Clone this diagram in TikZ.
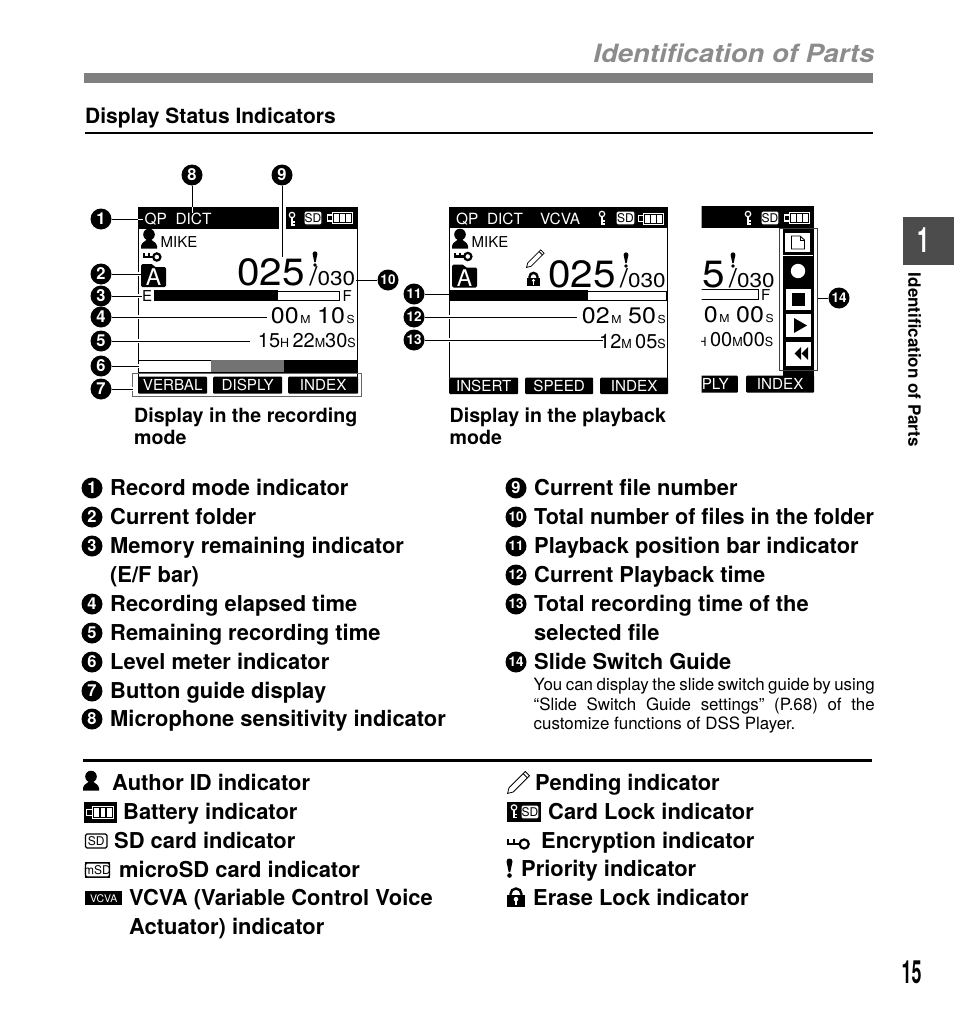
\documentclass[tikz,border=0pt]{standalone}
\usepackage{fontspec}
\setmainfont{TeX Gyre Heros}
\usetikzlibrary{positioning, calc}

\newcommand{\fsz}[1]{\fontsize{#1}{#1}\selectfont}

% --- MACROS FOR THE SMALL ICONS ---
\newcommand{\authoricon}[1]{
  \begin{scope}[shift={(#1)}]
    \fill[black] (0,-4.5) circle (5.8);
    \fill[black] (-8,9.5) -- (-8,7) .. controls (-7.5,3) and (-3,2.5) .. (-2,0) -- (2,0) .. controls (3,2.5) and (7.5,3) .. (8,7) -- (8,9.5) -- cycle;
  \end{scope}
}
\newcommand{\cryptkey}[2]{
  \begin{scope}[shift={(#1)}, scale=#2]
    \draw[black, line width=2.2] (-1,0) -- (10,0);
    \draw[black, line width=2.2] (0,1) -- (0,-3.8);
    \draw[black, line width=2.2] (5,1) -- (5,-3.8);
    \draw[black, line width=2.2] (13.5,0) circle (3.8);
  \end{scope}
}
\newcommand{\foldericon}[1]{
  \begin{scope}[shift={(#1)}]
    \fill[black, rounded corners=1.5] (0,23) -- (0,0) -- (12,0) -- (13,3) -- (25,3) -- (25,23) -- cycle;
    \node[white, font=\fsz{23}, inner sep=0pt] (#1A) at (12.5,13.5) {A};
  \end{scope}
}
\newcommand{\prioicon}[2]{
  \begin{scope}[shift={(#1)}, scale=#2]
    \fill[black] (-3,-6.5) .. controls (-3,-10.5) and (3,-10.5) .. (3,-6.5) -- (0.8,4) -- (-0.8,4) -- cycle;
    \fill[black] (0,7.5) circle (2.3);
  \end{scope}
}
\newcommand{\penicon}[2]{
  \begin{scope}[shift={(#1)}, scale=#2, rotate=45]
    \draw[black, line width=0.8] (-14,0) -- (-9,-3) -- (14,-3) -- (14,3) -- (-9,3) -- cycle;
    \draw[black, line width=0.8] (11,-3) -- (11,3);
  \end{scope}
}
\newcommand{\lockicon}[2]{
  \begin{scope}[shift={(#1)}, scale=#2]
    \draw[black, line width=2.4] (-5.5,0) -- (-5.5,-3) arc (180:360:5.5) -- (5.5,0);
    \fill[black] (-9,-2) rectangle (9,10);
    \fill[white] (0,2.2) circle (2.3);
    \fill[white] (-1.2,3) rectangle (1.2,8);
  \end{scope}
}
\newcommand{\whitekey}[1]{
  \begin{scope}[shift={(#1)}]
    \draw[white, line width=1.2] (0,-4) circle (2.7);
    \draw[white, line width=1.2] (0,-1.3) -- (0,6) -- (2.5,6);
    \draw[white, line width=1.2] (0,3) -- (2.5,3);
  \end{scope}
}
\newcommand{\sdicon}[3]{
  \begin{scope}[shift={(#1)}]
    \draw[fill=white, draw=black, line width=1.3, rounded corners=1.5] (0,0) rectangle (#3,14);
    \node[black, font=\fsz{12}, inner sep=0pt] (#1S) at (#3/2,7.2) {#2};
  \end{scope}
}
\newcommand{\batteryicon}[2]{
  \begin{scope}[shift={(#1)}, scale=#2]
    \fill[black] (-2,-4) rectangle (31,16.5);
    \fill[white] (0,2.5) rectangle (6,10);
    \fill[black] (1.4,3.9) rectangle (6,8.6);
    \fill[white] (6,0) rectangle (28,13);
    \fill[black] (7.2,1.2) rectangle (26.8,11.8);
    \fill[white] (8.4,2.4) rectangle (13.3,10.6);
    \fill[white] (14.5,2.4) rectangle (19.4,10.6);
    \fill[white] (20.6,2.4) rectangle (25.5,10.6);
  \end{scope}
}
\newcommand{\bigunit}[1]{{\fsz{11}#1}}
\newcommand{\midunit}[1]{{\fsz{12.5}#1}}
\newcommand{\bigslash}{\smash{\fsz{26}/}}

\begin{document}
\begin{tikzpicture}[x=1pt, y=-1pt]
  % --- STYLE DEFINITIONS ---
  \tikzstyle{numdot}=[circle, fill=black, text=white, minimum size=21pt, inner sep=0pt, font=\fsz{16.5}\bfseries]
  \tikzstyle{numtwo}=[numdot, font=\fsz{13.5}\bfseries]
  \tikzstyle{leader}=[black, line width=0.9, preaction={draw=white, line width=3.5}]
  \tikzstyle{listtext}=[anchor=base west, inner sep=0pt, font=\fsz{21.9}\bfseries]
  \tikzstyle{caption}=[anchor=base west, inner sep=0pt, font=\fsz{19.6}\bfseries]
  \tikzstyle{softkey}=[fill=black, text=white, rounded corners=1pt, inner sep=0pt, font=\fsz{15.2}]
  \tikzstyle{screenrow}=[anchor=base east, inner sep=0pt, xscale=1.11, font=\fsz{22.5}]
  \tikzstyle{screenrowb}=[anchor=base east, inner sep=0pt, font=\fsz{20}]
  \tikzstyle{bigcount}=[anchor=base west, inner sep=0pt, xscale=1.065, font=\fsz{38}]
  \tikzstyle{totalcount}=[anchor=base east, inner sep=0pt, xscale=1.13, font=\fsz{20}]
  \tikzstyle{smalllabel}=[anchor=base west, inner sep=0pt, font=\fsz{15}]
  \tikzstyle{guidecell}=[fill=white, draw=black, line width=1.2]

  \useasboundingbox (0,0) rectangle (954,1022);

  % =================================================================
  % PAGE HEADER
  % =================================================================
  \node[anchor=base east, inner sep=0pt, text=black!45, xscale=1.09, font=\fsz{25.2}\bfseries\itshape] (title) at (874.5,63) {Identification of Parts};
  \fill[black!50] (84,73) rectangle (873,83);
  \node[anchor=base west, inner sep=0pt, font=\fsz{21}\bfseries] (section) at (85,124) {Display Status Indicators};
  \draw[black, line width=1.6] (85,133) -- (873,133);

  % =================================================================
  % SCREEN 1: RECORDING MODE
  % =================================================================
  \fill[black] (138,207) rectangle (279,229);
  \fill[black] (286,207) rectangle (358,229);
  \draw[black, line width=0.9] (138.5,229) -- (138.5,378);
  \draw[black, line width=1.2] (357.3,229) -- (357.3,378);
  \node[anchor=base west, inner sep=0pt, text=white, font=\fsz{15.4}] (mode1) at (144.5,224) {QP\ \ DICT};
  \whitekey{292,219}
  \sdicon{304,211}{SD}{18}
  \batteryicon{326.5,212}{0.95}
  \authoricon{149,239}
  \node[smalllabel] (mike1) at (160.5,247) {MIKE};
  \cryptkey{144,257}{0.95}
  \foldericon{141,264}
  \node[bigcount] (count1) at (237,285) {025};
  \prioicon{315,259}{0.8}
  \node[totalcount] (total1) at (355.5,285) {\bigslash 030};
  \node[smalllabel] (empty1) at (142,301) {E};
  \node[smalllabel] (full1) at (342.5,301) {F};
  \draw[black, fill=white, line width=1] (154.5,291) rectangle (339,300.5);
  \fill[black] (154,290) rectangle (278,301);
  \node[screenrow] (elapsed) at (355,323.5) {00\hspace{1.5pt}\bigunit{M}\hspace{6pt}10\hspace{1.5pt}\bigunit{S}};
  \node[screenrowb] (remain) at (356,347) {15\midunit{H}\,22\midunit{M}30\midunit{S}};
  \draw[black, line width=0.9] (138,360) -- (211,360);
  \draw[black, line width=0.9] (138,372) -- (358,372);
  \fill[black!55] (211,360) rectangle (284,372);
  \fill[black] (284,360) rectangle (358,372);
  \node[softkey, anchor=north west, minimum width=69pt, minimum height=17pt] (verbal) at (138,376.5) {VERBAL};
  \node[softkey, anchor=north west, minimum width=69pt, minimum height=17pt] (disply) at (213,376.5) {DISPLY};
  \node[softkey, anchor=north west, minimum width=70pt, minimum height=17pt] (index1) at (288,376.5) {INDEX};
  \draw[black!60, line width=0.9] (132.5,373.5) rectangle (361.5,396.5);

  % --- CALLOUTS ---
  \node[numdot] (n1) at (101,219) {1};
  \node[numdot] (n2) at (101,274) {2};
  \node[numdot] (n3) at (101,296) {3};
  \node[numdot] (n4) at (101,317) {4};
  \node[numdot] (n5) at (101,341) {5};
  \node[numdot] (n6) at (101,366) {6};
  \node[numdot] (n7) at (101,389) {7};
  \node[numdot] (n8) at (192,175) {8};
  \node[numdot] (n9) at (282,175) {9};
  \node[numtwo] (n10) at (388,280) {10};
  \coordinate (e1) at (138,219);
  \coordinate (e2) at (141,274);
  \coordinate (e3) at (141.5,296);
  \coordinate (e4) at (267,317);
  \coordinate (e5) at (250,341);
  \coordinate (e6) at (139,366);
  \coordinate (e7) at (132.5,389);
  \coordinate (e8) at (192,207);
  \coordinate (e9) at (282,257);
  \coordinate (e10) at (356,280);
  \draw[leader] (n1) -- (e1);
  \draw[white, line width=0.9] (138,219) -- (143,219);
  \draw[leader] (n2) -- (e2);
  \draw[leader] (n3) -- (e3);
  \draw[leader] (n4) -- (e4);
  \draw[leader] (n5) -- (e5);
  \draw[leader] (n6) -- (e6);
  \draw[leader] (n7) -- (e7);
  \draw[black, line width=0.9] (n8) -- (e8);
  \draw[white, line width=0.9] (192,207) -- (192,213);
  \draw[leader] (n9) -- (e9);
  \draw[black, line width=0.9] (n10) -- (e10);

  \node[caption] (cap1a) at (134,422) {Display in the recording};
  \node[caption] (cap1b) at (134,444) {mode};

  % =================================================================
  % SCREEN 2: PLAYBACK MODE
  % =================================================================
  \fill[black] (449,207) rectangle (668,228);
  \draw[black, line width=0.9] (449.5,228) -- (449.5,378);
  \draw[black, line width=1.2] (667.3,228) -- (667.3,378);
  \node[anchor=base west, inner sep=0pt, text=white, font=\fsz{15.4}] (mode2) at (456,224) {QP\ \ DICT\ \ \ \ VCVA};
  \whitekey{602,218}
  \sdicon{616,211}{SD}{19}
  \batteryicon{637.5,212.5}{0.95}
  \authoricon{460,239}
  \node[smalllabel] (mike2) at (471.5,247) {MIKE};
  \cryptkey{455,256.5}{0.95}
  \foldericon{452,264.5}
  \penicon{534.5,259.5}{0.8}
  \lockicon{533.5,279}{0.72}
  \node[bigcount] (count2) at (548,287) {025};
  \prioicon{626,260}{0.8}
  \node[totalcount] (total2) at (666,287) {\bigslash 030};
  \draw[black, fill=white, line width=1] (449,291) rectangle (666.5,300.5);
  \fill[black] (449,290) rectangle (588,301);
  \node[screenrow] (played) at (666,323.5) {02\hspace{1.5pt}\bigunit{M}\hspace{6pt}50\hspace{1.5pt}\bigunit{S}};
  \node[screenrowb] (filetime) at (666,348) {12\midunit{M}\,05\midunit{S}};
  \node[softkey, anchor=north west, minimum width=69pt, minimum height=16.5pt] (insert) at (449,377.5) {INSERT};
  \node[softkey, anchor=north west, minimum width=68pt, minimum height=16.5pt] (speed) at (525,377.5) {SPEED};
  \node[softkey, anchor=north west, minimum width=68pt, minimum height=16.5pt] (index2) at (600,377.5) {INDEX};

  % --- CALLOUTS ---
  \node[numtwo] (n11) at (414,294) {11};
  \node[numtwo] (n12) at (414,317) {12};
  \node[numtwo] (n13) at (414,340) {13};
  \coordinate (e11) at (449,294);
  \coordinate (e12) at (577,317);
  \coordinate (e13) at (603,340);
  \draw[black, line width=0.9] (n11) -- (e11);
  \draw[leader] (n12) -- (e12);
  \draw[leader] (n13) -- (e13);

  \node[caption] (cap2a) at (449.5,422) {Display in the playback};
  \node[caption] (cap2b) at (449.5,444) {mode};

  % =================================================================
  % SCREEN 3: SLIDE SWITCH GUIDE (cut off at the left)
  % =================================================================
  \begin{scope}
    \clip (701.5,200) rectangle (830,400);
    \fill[black] (701,206) rectangle (814,228);
    \whitekey{748,218}
    \sdicon{761,211}{SD}{18}
    \batteryicon{783.5,212}{0.95}
    \node[bigcount, anchor=base east] (count3) at (725.5,287) {5};
    \prioicon{733,260}{0.8}
    \node[totalcount] (total3) at (775,287) {\bigslash 030};
    \draw[black, line width=1] (701,289.5) -- (758,289.5) -- (758,299) -- (701,299);
    \node[smalllabel] (full3) at (761,300.5) {F};
    \node[screenrow] (played3) at (774,322) {0\hspace{1.5pt}\bigunit{M}\hspace{6pt}00\hspace{1.5pt}\bigunit{S}};
    \node[screenrowb] (filetime3) at (773.5,346.5) {\midunit{H}\,00\midunit{M}00\midunit{S}};
    \node[softkey, anchor=north east, minimum width=45pt, minimum height=17pt] (ply) at (738,375.5) {PLY};
    \node[softkey, anchor=north west, minimum width=68pt, minimum height=17pt] (index3) at (746,375.5) {INDEX};
  \end{scope}
  \fill[black] (783,229) rectangle (813.5,375.5);
  \draw[guidecell] (784.5,232.5) rectangle (811,253);
  \draw[black, line width=0.9] (791.5,236) -- (800,236) -- (804.5,240) -- (804.5,249) -- (791.5,249) -- cycle;
  \draw[black, line width=0.7] (800,236) -- (800,240) -- (804.5,240);
  \draw[white, line width=0.9] (783,255) -- (813,255);
  \fill[white] (798,271) circle (7.2);
  \draw[guidecell] (785.5,288.5) rectangle (812,310.5);
  \fill[black] (792,293) rectangle (805,306);
  \draw[guidecell] (785.5,313) rectangle (812,338);
  \fill[black] (794,318) -- (807,325.5) -- (794,333) -- cycle;
  \draw[guidecell] (785.5,341) rectangle (812,366.5);
  \fill[black] (801,347) -- (801,360) -- (794.5,353.5) -- cycle;
  \fill[black] (808,347) -- (808,360) -- (801.5,353.5) -- cycle;
  \draw[black!75, line width=0.9] (779.5,228.5) rectangle (817.5,370);
  \node[numtwo] (n14) at (839,298) {14};
  \coordinate (e14) at (817.5,298);
  \draw[black, line width=0.9] (n14) -- (e14);

  % =================================================================
  % NUMBERED LISTS
  % =================================================================
  \node[numdot] (l1) at (92,488) {1};
  \node[listtext] (t1) at (110,495) {Record mode indicator};
  \node[numdot] (l2) at (92,517) {2};
  \node[listtext] (t2) at (110,524) {Current folder};
  \node[numdot] (l3) at (92,546) {3};
  \node[listtext] (t3) at (110,553) {Memory remaining indicator};
  \node[listtext] (t3b) at (110,582) {(E/F bar)};
  \node[numdot] (l4) at (92,604) {4};
  \node[listtext] (t4) at (110,611) {Recording elapsed time};
  \node[numdot] (l5) at (92,633) {5};
  \node[listtext] (t5) at (110,640) {Remaining recording time};
  \node[numdot] (l6) at (92,662) {6};
  \node[listtext] (t6) at (110,669) {Level meter indicator};
  \node[numdot] (l7) at (92,691) {7};
  \node[listtext] (t7) at (110,698) {Button guide display};
  \node[numdot] (l8) at (92,719) {8};
  \node[listtext] (t8) at (110,726) {Microphone sensitivity indicator};

  \node[numdot] (l9) at (516,488) {9};
  \node[listtext] (t9) at (534,495) {Current file number};
  \node[numtwo] (l10) at (516,517) {10};
  \node[listtext, xscale=0.985] (t10) at (534,524) {Total number of files in the folder};
  \node[numtwo] (l11) at (516,546) {11};
  \node[listtext] (t11) at (534,553) {Playback position bar indicator};
  \node[numtwo] (l12) at (516,575) {12};
  \node[listtext] (t12) at (534,582) {Current Playback time};
  \node[numtwo] (l13) at (516,604) {13};
  \node[listtext] (t13) at (534,611) {Total recording time of the};
  \node[listtext] (t13b) at (534,640) {selected file};
  \node[numtwo] (l14) at (516,662) {14};
  \node[listtext] (t14) at (534,669) {Slide Switch Guide};
  \node[anchor=north west, inner sep=0pt, text width=341pt, align=justify, font=\fontsize{16.9}{19.6}\selectfont] (guidenote) at (533.5,678) {You can display the slide switch guide by using\linebreak ``Slide Switch Guide settings'' (P.68) of the\linebreak customize functions of DSS Player.};

  % =================================================================
  % ICON LEGEND
  % =================================================================
  \draw[black, line width=3] (83,760.5) -- (872,760.5);

  \authoricon{91,781}
  \node[listtext] (a1) at (112,790) {Author ID indicator};
  \batteryicon{86,806}{1}
  \node[listtext] (a2) at (123,819) {Battery indicator};
  \sdicon{85.5,834}{SD}{21.5}
  \node[listtext] (a3) at (114,848) {SD card indicator};
  \fill[black] (85,862) rectangle (110,878);
  \sdicon{85.5,863}{mSD}{24}
  \node[listtext] (a4) at (119,877) {microSD card indicator};
  \node[fill=black, text=white, anchor=north west, inner sep=0pt, minimum width=37pt, minimum height=14pt, font=\fsz{10.5}] (vcvabox) at (85,891) {VCVA};
  \node[listtext] (a5) at (129,905) {VCVA (Variable Control Voice};
  \node[listtext] (a5b) at (129,934) {Actuator) indicator};

  \penicon{517.5,783.5}{1}
  \node[listtext] (b1) at (535,790) {Pending indicator};
  \fill[black] (507,802) rectangle (541,822);
  \whitekey{514,811.5}
  \sdicon{521,805}{SD}{18}
  \node[listtext] (b2) at (548,819) {Card Lock indicator};
  \cryptkey{508,844}{1.2}
  \node[listtext] (b3) at (541,848) {Encryption indicator};
  \prioicon{509.5,868}{1}
  \node[listtext] (b4) at (521,876) {Priority indicator};
  \lockicon{516,897}{1}
  \node[listtext] (b5) at (533,905) {Erase Lock indicator};

  % =================================================================
  % SIDE TAB AND PAGE NUMBER
  % =================================================================
  \fill[black!70] (903,217) rectangle (954,265);
  \node[text=white, inner sep=0pt, font=\fsz{35}\bfseries, xscale=0.62] (chapter) at (924,240.5) {1};
  \node[rotate=-90, inner sep=0pt, font=\fsz{17}\bfseries] (sidelabel) at (914.5,360) {Identification of Parts};
  \node[inner sep=0pt, font=\fsz{32}\bfseries, xscale=0.56] (pagenum) at (911.5,972) {15};
\end{tikzpicture}
\end{document}
